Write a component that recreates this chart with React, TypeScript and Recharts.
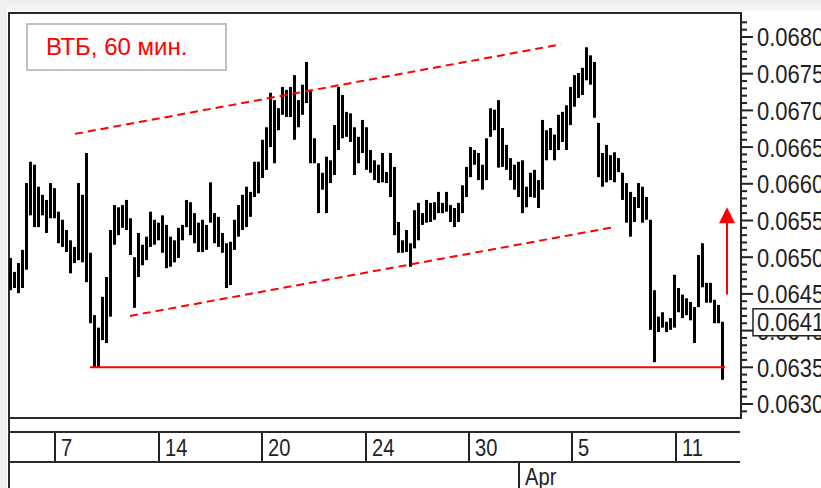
import React from "react";
import {
  ComposedChart,
  Bar,
  XAxis,
  YAxis,
  ReferenceLine,
  ReferenceArea,
  ReferenceDot,
} from "recharts";

// hourly bar highs / lows
const highs = [
  0.06499, 0.0648, 0.06492, 0.0651, 0.06601, 0.0663, 0.06626, 0.06596, 0.06585, 0.06578,
  0.06601, 0.06594, 0.06562, 0.06551, 0.06537, 0.06523, 0.06514, 0.06601, 0.06585, 0.06642,
  0.06506, 0.06421, 0.06404, 0.06446, 0.06473, 0.06537, 0.06571, 0.06568, 0.06571, 0.06578,
  0.06553, 0.065, 0.06533, 0.06517, 0.06528, 0.06562, 0.06551, 0.06547, 0.06557, 0.06544,
  0.06528, 0.06523, 0.0654, 0.06544, 0.06578, 0.06575, 0.0656, 0.06547, 0.06551, 0.06544,
  0.06602, 0.0656, 0.06555, 0.06533, 0.06519, 0.06521, 0.06551, 0.06571, 0.06585, 0.06596,
  0.06589, 0.0663, 0.0663, 0.0666, 0.06677, 0.06724, 0.06714, 0.06703, 0.06732, 0.06728,
  0.06732, 0.06748, 0.06714, 0.06735, 0.06766, 0.06728, 0.06662, 0.06628, 0.06615, 0.06637,
  0.06632, 0.0668, 0.06732, 0.06721, 0.06698, 0.06696, 0.06677, 0.06664, 0.06687, 0.06677,
  0.06646, 0.06632, 0.06626, 0.06642, 0.06616, 0.06642, 0.06623, 0.06548, 0.06523, 0.06537,
  0.06519, 0.06564, 0.06574, 0.0656, 0.06578, 0.06574, 0.06575, 0.06589, 0.06574, 0.06589,
  0.06571, 0.06567, 0.06574, 0.06598, 0.06623, 0.0665, 0.06646, 0.06642, 0.06626, 0.06662,
  0.06703, 0.06701, 0.06714, 0.06676, 0.06653, 0.06635, 0.06626, 0.0663, 0.06632, 0.06596,
  0.06615, 0.06619, 0.06605, 0.06687, 0.06673, 0.06676, 0.06667, 0.06694, 0.06698, 0.06707,
  0.06732, 0.06748, 0.06751, 0.06758, 0.06786, 0.06775, 0.06766, 0.06683, 0.06642, 0.06653,
  0.06639, 0.06643, 0.06635, 0.06615, 0.06601, 0.06589, 0.06582, 0.06601, 0.06596, 0.06582,
  0.06551, 0.06455, 0.06419, 0.06425, 0.06412, 0.06417, 0.06476, 0.06458, 0.06449, 0.06444,
  0.06439, 0.06432, 0.06503, 0.06519, 0.06465, 0.06465, 0.06442, 0.06435, 0.06412,
];
const lows = [
  0.06455, 0.06458, 0.06451, 0.06458, 0.06483, 0.06557, 0.06541, 0.06541, 0.06557, 0.06533,
  0.06553, 0.06553, 0.06519, 0.06514, 0.06507, 0.06478, 0.06492, 0.06496, 0.06493, 0.06466,
  0.0641, 0.0635, 0.0635, 0.06387, 0.06383, 0.06419, 0.06517, 0.0653, 0.0654, 0.06537,
  0.06503, 0.06431, 0.06473, 0.06489, 0.06496, 0.06514, 0.06517, 0.06523, 0.06506, 0.06485,
  0.06487, 0.06493, 0.06499, 0.06523, 0.06541, 0.0653, 0.06519, 0.06507, 0.06507, 0.0651,
  0.06547, 0.06519, 0.06514, 0.06506, 0.06458, 0.06462, 0.0651, 0.06528, 0.06537, 0.06541,
  0.06555, 0.06582, 0.06587, 0.06608, 0.06619, 0.0665, 0.06628, 0.06673, 0.06694, 0.06691,
  0.06691, 0.0666, 0.06677, 0.06694, 0.0671, 0.06628, 0.06628, 0.0656, 0.06592, 0.0656,
  0.06601, 0.06612, 0.06646, 0.06662, 0.06664, 0.06657, 0.06612, 0.06628, 0.06642, 0.06619,
  0.06615, 0.06605, 0.06601, 0.06602, 0.06601, 0.06582, 0.0653, 0.06506, 0.06506, 0.06507,
  0.06487, 0.06512, 0.06523, 0.06544, 0.06547, 0.06548, 0.06551, 0.0656, 0.0656, 0.06562,
  0.06548, 0.06541, 0.06548, 0.0656, 0.06582, 0.06609, 0.06626, 0.06605, 0.06592, 0.06605,
  0.06664, 0.06673, 0.06622, 0.06623, 0.06619, 0.06605, 0.06592, 0.06582, 0.0656, 0.06568,
  0.06582, 0.06581, 0.06567, 0.06592, 0.06632, 0.06646, 0.06632, 0.06646, 0.06657, 0.06646,
  0.0668, 0.06705, 0.06717, 0.06721, 0.06741, 0.06735, 0.0669, 0.06609, 0.06596, 0.06602,
  0.06605, 0.06602, 0.06616, 0.06578, 0.06547, 0.06528, 0.06548, 0.06567, 0.06547, 0.06551,
  0.06401, 0.06357, 0.06398, 0.06404, 0.06398, 0.06401, 0.06404, 0.06425, 0.06417, 0.06421,
  0.06414, 0.06383, 0.06432, 0.06459, 0.06438, 0.06438, 0.0641, 0.0641, 0.06333,
];

// bottom date strip
const dayTicks = [11, 37, 62.75, 88.75, 114.5, 140.25, 166.25];
const dayLabels = ["7", "14", "20", "24", "30", "5", "11"];
const monthTicks = [127];
const monthLabels = ["Apr"];

// price scale
const priceMajor = [0.063, 0.0635, 0.064, 0.0645, 0.065, 0.0655, 0.066, 0.0665, 0.067, 0.0675, 0.068];
const priceMinor = [
  0.0629, 0.0631, 0.0632, 0.0633, 0.0634, 0.0636, 0.0637, 0.0638, 0.0639,
  0.0641, 0.0642, 0.0643, 0.0644, 0.0646, 0.0647, 0.0648, 0.0649,
  0.0651, 0.0652, 0.0653, 0.0654, 0.0656, 0.0657, 0.0658, 0.0659,
  0.0661, 0.0662, 0.0663, 0.0664, 0.0666, 0.0667, 0.0668, 0.0669,
  0.0671, 0.0672, 0.0673, 0.0674, 0.0676, 0.0677, 0.0678, 0.0679, 0.0681, 0.0682,
];
const lastPrice = 0.06412;
const yMin = 0.062809;
const yMax = 0.068327;
const xMin = -0.5;
const xMax = 182.5;

// drawn annotations (bar index, price)
const upperChannel = [{ x: 16, y: 0.06668 }, { x: 137.5, y: 0.0679 }];
const lowerChannel = [{ x: 29.75, y: 0.0642 }, { x: 150.75, y: 0.06541 }];
const supportLine = [{ x: 19.75, y: 0.0635 }, { x: 178.5, y: 0.0635 }];
const arrowX = 179;
const arrowFrom = 0.06449;
const arrowBase = 0.06548;
const arrowTip = 0.06568;

const data = highs.map((h, i) => ({ i, range: [lows[i], h] }));

const FONT = "'Liberation Sans', Arial, sans-serif";
const INK = "#222";
const near = (a: number, b: number) => Math.abs(a - b) < 1e-7;

// the terminal font is narrow, so squeeze a normal sans horizontally
function NarrowText({ x, y, size, children, central = true, sx = 0.84 }: any) {
  return (
    <text
      transform={`translate(${x},${y}) scale(${sx},1)`}
      dominantBaseline={central ? "central" : "auto"}
      fontFamily={FONT}
      fontSize={size}
      fill={INK}
    >
      {children}
    </text>
  );
}

function PriceTick(props: any) {
  const { x, y, payload } = props;
  const v = payload.value as number;
  if (near(v, lastPrice)) {
    return (
      <g>
        <rect x={x + 12} y={y - 13} width={90} height={27} fill="#fff" stroke={INK} strokeWidth={1.5} />
        <NarrowText x={x + 16} y={y + 1} size={25} sx={0.88}>
          {v.toFixed(4)}
        </NarrowText>
      </g>
    );
  }
  const major = priceMajor.some((m) => near(m, v));
  return (
    <g>
      <line x1={x} x2={x + (major ? 12 : 6)} y1={y} y2={y} stroke={INK} strokeWidth={2} />
      {major && (
        <NarrowText x={x + 16} y={y + 1} size={25} sx={0.88}>
          {v.toFixed(4)}
        </NarrowText>
      )}
    </g>
  );
}

function DateTick(props: any) {
  const { x, y, payload } = props;
  const v = payload.value as number;
  const di = dayTicks.indexOf(v);
  if (di >= 0) {
    return (
      <g>
        <line x1={x} x2={x} y1={y + 14} y2={y + 44} stroke={INK} strokeWidth={2} />
        <NarrowText x={x + 6} y={y + 30} size={24}>
          {dayLabels[di]}
        </NarrowText>
      </g>
    );
  }
  const mi = monthTicks.indexOf(v);
  return (
    <g>
      <line x1={x} x2={x} y1={y + 44} y2={y + 70} stroke={INK} strokeWidth={2} />
      <NarrowText x={x + 6} y={y + 67} size={24} central={false}>
        {monthLabels[mi]}
      </NarrowText>
    </g>
  );
}

const ArrowHead = (props: any) => {
  const { cx, cy } = props;
  return <polygon points={`${cx},${cy} ${cx - 8},${cy + 16} ${cx + 8},${cy + 16}`} fill="#ff0000" />;
};

export default function App() {
  return (
    <div style={{ position: "absolute", left: 0, top: 0, width: 821, height: 488, background: "#fff", overflow: "hidden" }}>
      <div style={{ position: "absolute", left: 0, top: 0, width: 821, height: 11, background: "linear-gradient(#ececec, #f7f7f7)" }} />
      <div style={{ position: "absolute", left: 0, top: 0, width: 7, height: 488, background: "#f0f0f0" }} />
      <ComposedChart width={821} height={488} data={data} margin={{ top: 13, right: 0, bottom: 0, left: 9 }}>
        <XAxis
          type="number"
          dataKey="i"
          domain={[xMin, xMax]}
          allowDataOverflow
          ticks={[...dayTicks, ...monthTicks]}
          interval={0}
          height={70}
          axisLine={false}
          tickLine={false}
          tickSize={0}
          tickMargin={0}
          tick={<DateTick />}
        />
        <YAxis
          orientation="right"
          domain={[yMin, yMax]}
          allowDataOverflow
          ticks={[...priceMinor, ...priceMajor, lastPrice]}
          interval={0}
          width={80}
          axisLine={{ stroke: INK, strokeWidth: 2 }}
          tickLine={false}
          tickSize={0}
          tickMargin={0}
          tick={<PriceTick />}
        />
        <ReferenceArea x1={xMin} x2={xMax} y1={yMin} y2={yMax} fill="none" stroke="#2a2a2a" strokeWidth={2} ifOverflow="visible" />
        <Bar dataKey="range" fill="#000" barSize={3} isAnimationActive={false} />
        <ReferenceLine segment={upperChannel} stroke="#ff0000" strokeWidth={2} strokeDasharray="8 5" ifOverflow="visible" />
        <ReferenceLine segment={lowerChannel} stroke="#ff0000" strokeWidth={2} strokeDasharray="8 5" ifOverflow="visible" />
        <ReferenceLine segment={supportLine} stroke="#ff0000" strokeWidth={2} ifOverflow="visible" />
        <ReferenceLine
          segment={[{ x: arrowX, y: arrowFrom }, { x: arrowX, y: arrowBase }]}
          stroke="#ff0000"
          strokeWidth={2}
          ifOverflow="visible"
        />
        <ReferenceDot x={arrowX} y={arrowTip} r={0} shape={ArrowHead} ifOverflow="visible" />
      </ComposedChart>
      <div style={{ position: "absolute", left: 8, top: 418, width: 2, height: 70, background: "#2a2a2a" }} />
      <div style={{ position: "absolute", left: 9, top: 431, width: 731, height: 2, background: "#2a2a2a" }} />
      <div style={{ position: "absolute", left: 9, top: 461, width: 731, height: 2, background: "#2a2a2a" }} />
      <div
        style={{
          position: "absolute",
          left: 26,
          top: 23,
          width: 179,
          height: 44,
          border: "2px solid #c0c0c0",
          background: "#fff",
          color: "#ff0000",
          fontFamily: FONT,
          fontSize: 24,
          lineHeight: "44px",
          paddingLeft: 18,
          boxSizing: "content-box",
          whiteSpace: "nowrap",
        }}
      >
        ВТБ, 60 мин.
      </div>
    </div>
  );
}
